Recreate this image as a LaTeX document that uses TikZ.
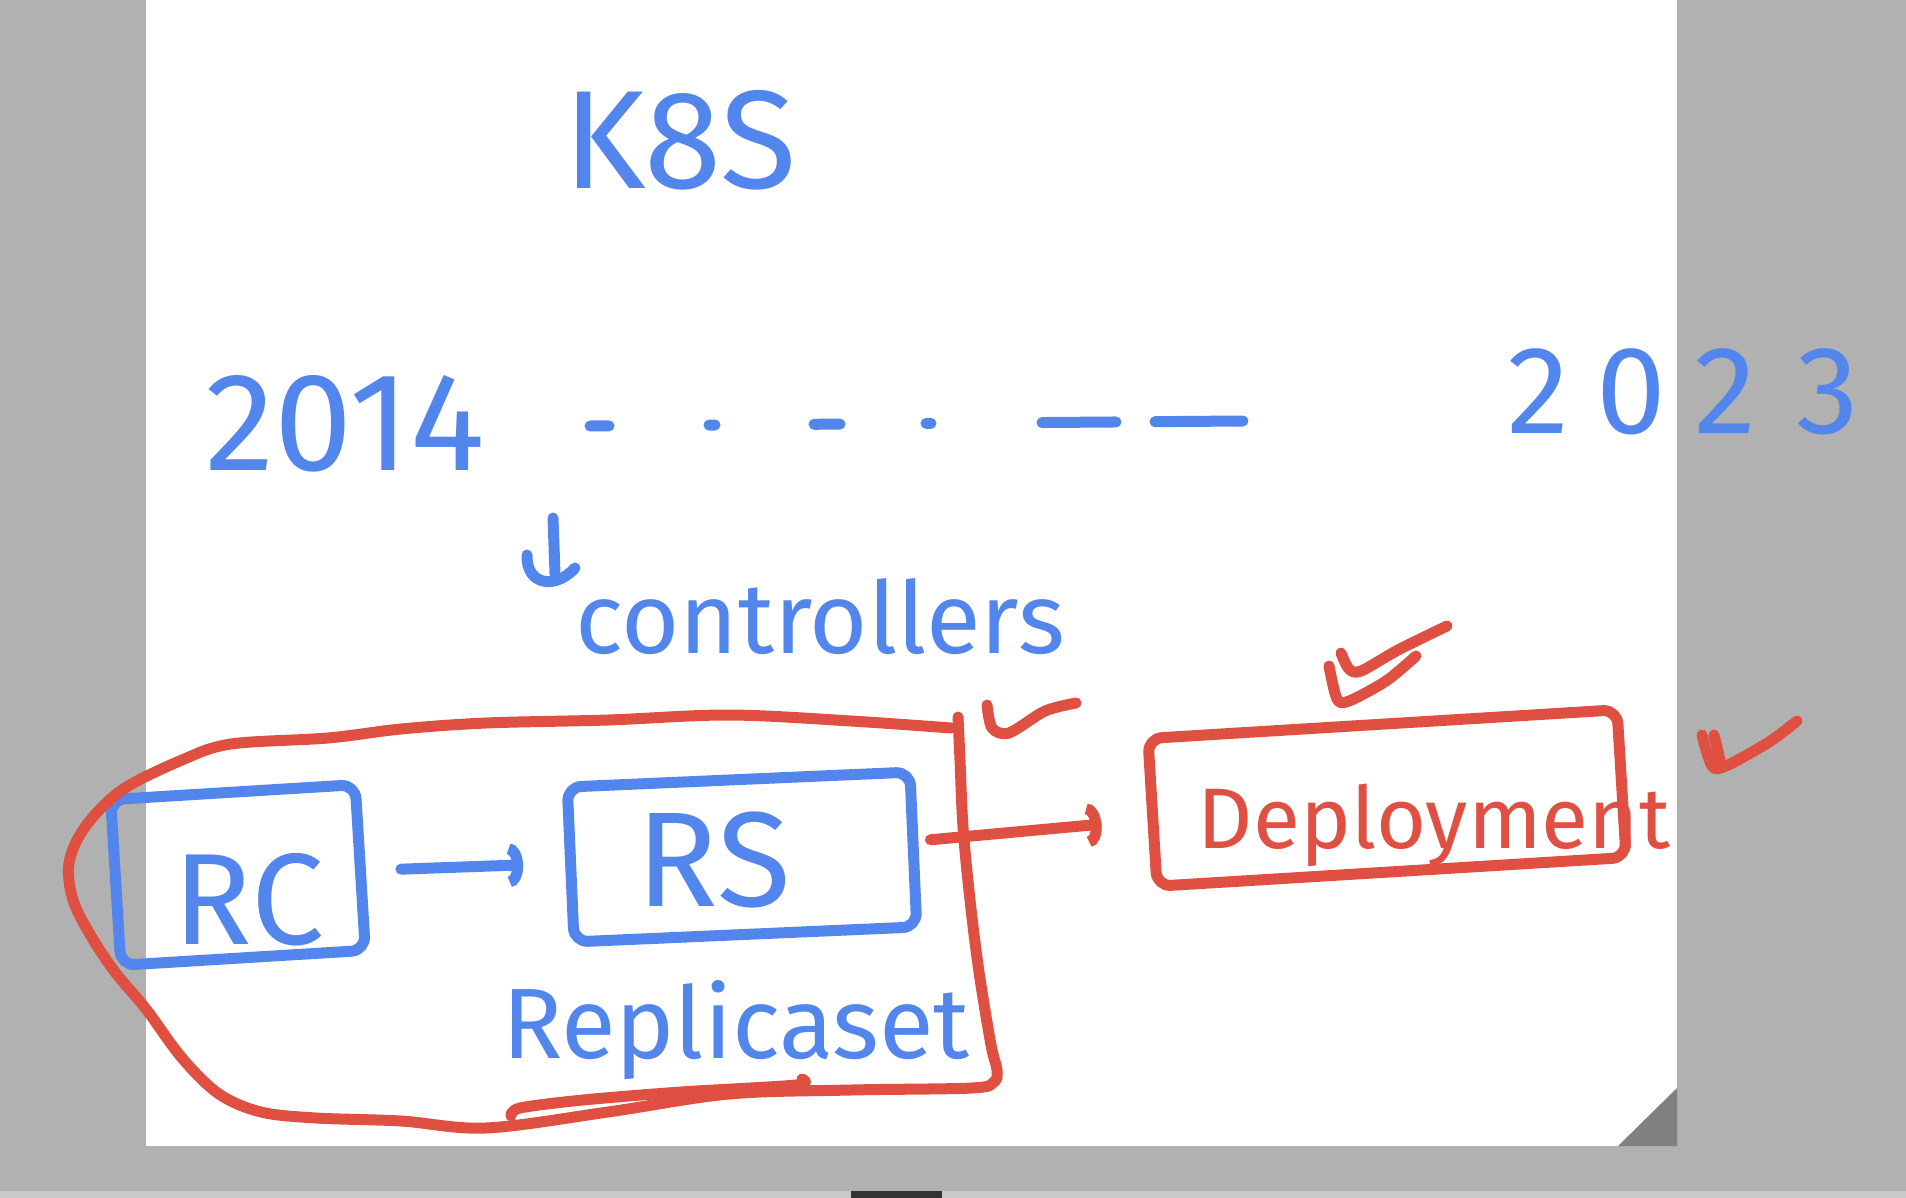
\documentclass[tikz,border=0pt]{standalone}
\usepackage{fontspec}
\setmainfont{Fira Sans}
\usetikzlibrary{arrows.meta}
\definecolor{bluepen}{HTML}{5386EC}
\definecolor{redpen}{HTML}{DF5042}
\definecolor{desk}{HTML}{B1B1B1}
\definecolor{deskline}{HTML}{C9C9C9}
\definecolor{fold}{HTML}{808080}
\tikzset{
  blueink/.style={draw=bluepen, line width=11pt, line cap=round, line join=round},
  redink/.style={draw=redpen, line width=11pt, line cap=round, line join=round},
  bluebox/.style={blueink, rectangle, rounded corners=14pt, inner sep=0pt},
  redbox/.style={redink, rectangle, rounded corners=14pt, inner sep=0pt},
  bluetext/.style={text=bluepen, inner sep=0pt},
  redtext/.style={text=redpen, inner sep=0pt},
  handtip/.style={-{Arc Barb[length=14pt, width=44pt]}}
}
\newcommand{\handsize}[1]{\fontsize{#1}{#1}\selectfont}
\begin{document}
\begin{tikzpicture}[x=1pt, y=-1pt]
        \useasboundingbox (0,0) rectangle (1906,1198);
        \fill[desk] (0,0) rectangle (1906,1198);
        \fill[white] (146,0) rectangle (1677,1146);
        \fill[fold] (1677,1088) -- (1618,1146) -- (1677,1146) -- cycle;
        \fill[deskline] (0,1191) rectangle (1906,1198);
        \fill[black!80] (851,1191) rectangle (942,1198);

        \node[bluetext, font=\handsize{140}] (k8s) at (680,140) {K8S};
        \node[bluetext, font=\handsize{140}] (y2014) at (345,424) {2014};
        \node[bluetext, font=\handsize{125}] (y2023) at (1683,392) {2\kern28pt0\kern28pt2\kern40pt3};
        \coordinate (tl0) at (590,426);
        \coordinate (tl1) at (1243,421);
        \draw[blueink, dash pattern=on 19pt off 100pt on 6pt off 99pt on 26pt off 86pt on 5pt off 111pt on 74pt off 39pt on 88pt off 300pt] (tl0) -- (tl1);

        \coordinate (dn0) at (553,518);
        \coordinate (dn1) at (555,574);
        \draw[blueink] (dn0) -- (dn1);
        \draw[blueink] (527,555) .. controls (526,585) and (555,590) .. (575,568);
        \node[bluetext, font=\handsize{100}] (ctrl) at (820,617) {controllers};

        \node[bluebox, minimum width=245pt, minimum height=166pt, rotate=3.5] (rc) at (238,875) {};
        \node[bluetext, font=\handsize{130}] (rcname) at (249,900) {RC};
        \node[bluebox, minimum width=343pt, minimum height=155pt, rotate=2.5] (rs) at (742,857) {};
        \node[bluetext, font=\handsize{135}] (rsname) at (714,860) {RS};
        \node[bluetext, font=\handsize{100}] (rsetname) at (736,1030) {Replicaset};
        \draw[blueink, handtip, shorten <=35pt, shorten >=42pt] (rc) -- (rs);

        \draw[redink] plot[smooth, tension=0.55] coordinates {(951,728) (851,721) (729,715) (608,720) (486,723) (401,729) (328,738) (231,744) (182,760) (122,790) (85,827) (69,863) (73,900) (91,936) (115,972) (146,1009) (182,1058) (219,1094) (261,1112) (316,1118) (401,1121) (486,1128) (608,1112) (729,1094) (851,1090) (972,1088) (994,1082) (997,1070) (991,1045) (979,972) (970,900) (963,827) (960,760) (958,717)};
        \draw[redink] plot[smooth, tension=0.5] coordinates {(511,1116) (520,1108) (583,1100) (681,1092) (796,1085) (802,1079)};
        \draw[redink] plot[smooth, tension=0.5] coordinates {(987,705) (992,728) (1009,733) (1045,711) (1076,703)};

        \node[redbox, minimum width=470pt, minimum height=148pt, rotate=3.5] (dep) at (1387,798) {};
        \node[redtext, font=\handsize{86}] (depname) at (1434,825) {Deployment};
        \draw[redink, handtip, shorten <=12pt, shorten >=46pt] (rs) -- (dep);

        \draw[redink] plot[smooth, tension=0.5] coordinates {(1329,666) (1337,699) (1349,701) (1386,681) (1416,656)};
        \draw[redink] plot[smooth, tension=0.5] coordinates {(1341,653) (1349,669) (1361,671) (1398,650) (1447,626)};
        \draw[redink] plot[smooth, tension=0.5] coordinates {(1702,735) (1712,766) (1726,766) (1769,742) (1797,721)};
        \draw[redink] (1714,735) -- (1720,760);
\end{tikzpicture}
\end{document}
